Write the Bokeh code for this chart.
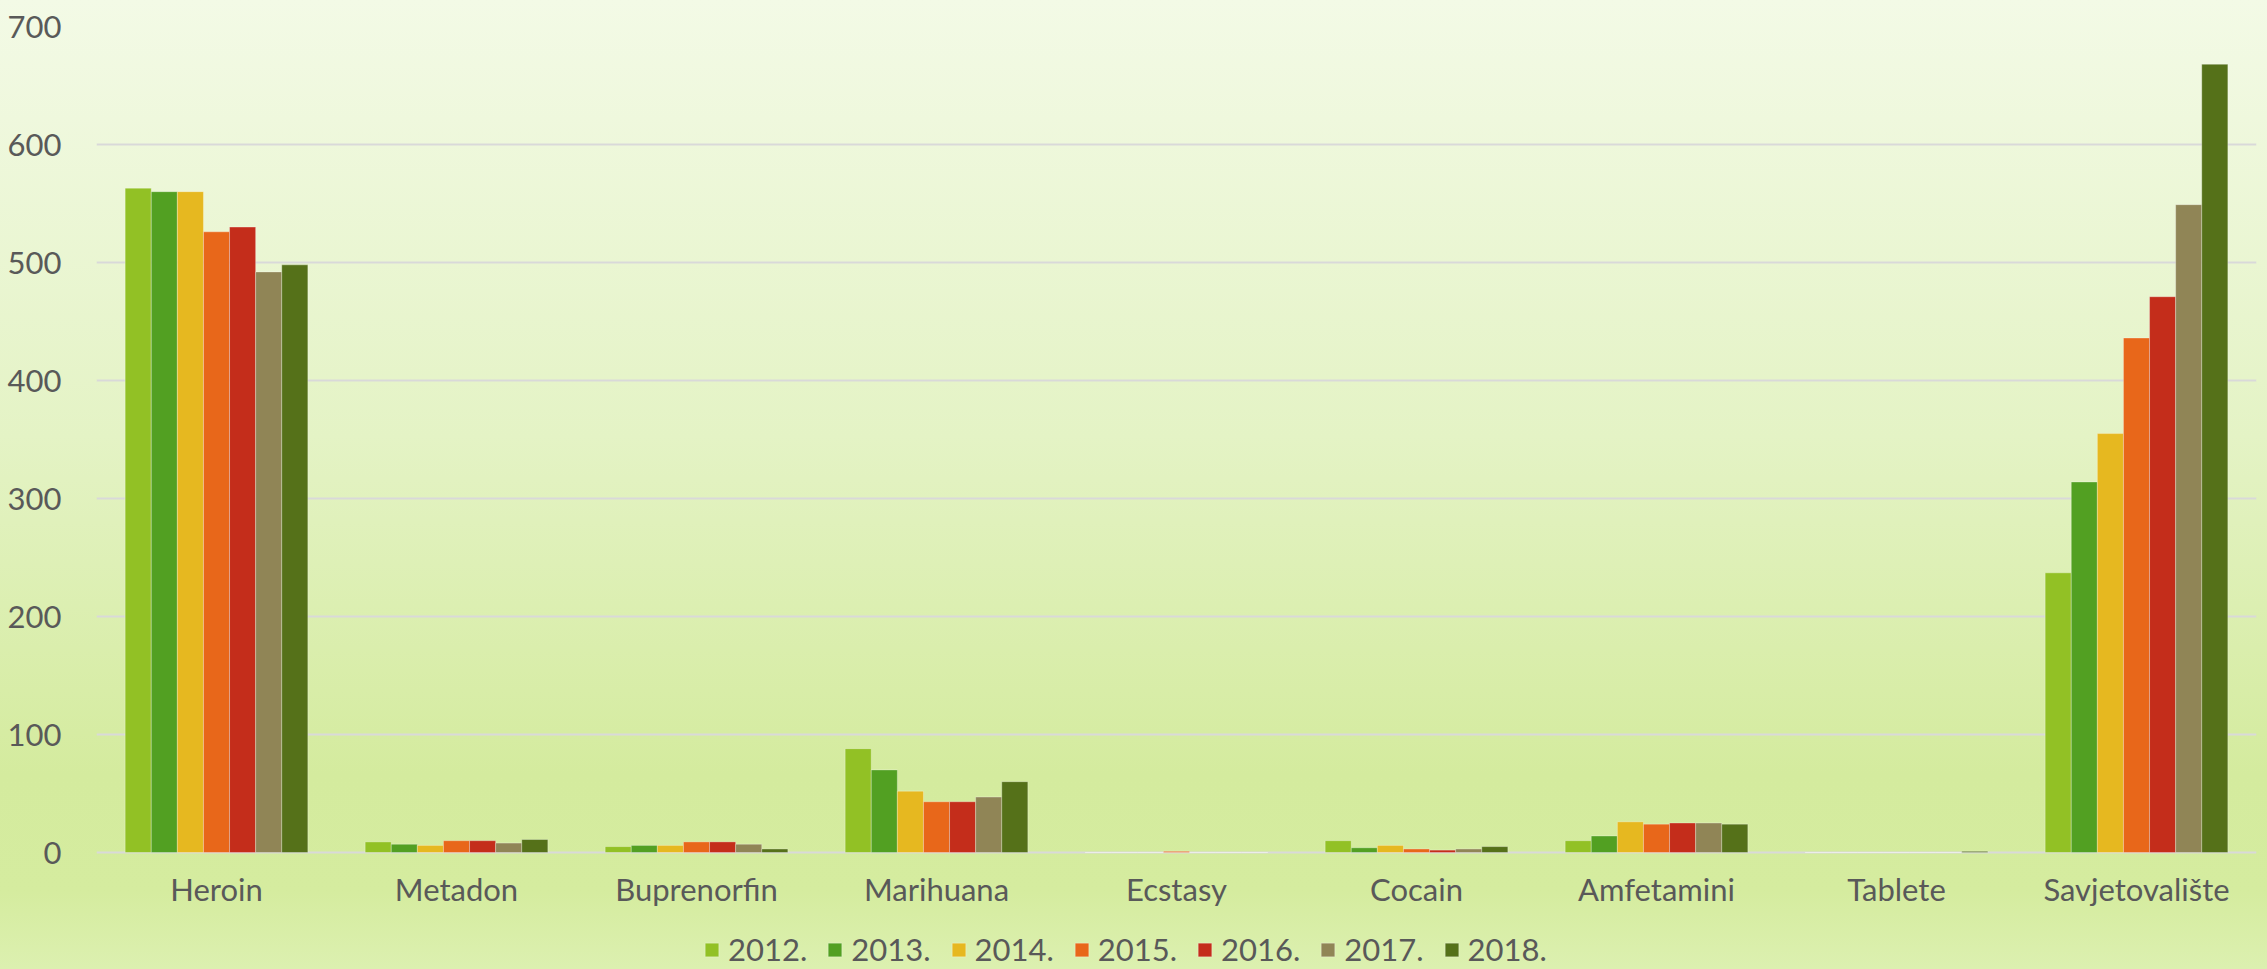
from bokeh.plotting import figure
from bokeh.models import (ColumnDataSource, FactorRange, Range1d, Legend, LegendItem,
                          FixedTicker)
from bokeh.core.properties import value
from bokeh.transform import dodge
from bokeh.embed import file_html
from bokeh.resources import INLINE

categories = ["Heroin", "Metadon", "Buprenorfin", "Marihuana", "Ecstasy",
              "Cocain", "Amfetamini", "Tablete", "Savjetovalište"]
years = ["2012.", "2013.", "2014.", "2015.", "2016.", "2017.", "2018."]

v2012 = [563, 9, 5, 88, 0, 10, 10, 0, 237]
v2013 = [560, 7, 6, 70, 0, 4, 14, 0, 314]
v2014 = [560, 6, 6, 52, 0, 6, 26, 0, 355]
v2015 = [526, 10, 9, 43, 1, 3, 24, 0, 436]
v2016 = [530, 10, 9, 43, 0, 2, 25, 0, 471]
v2017 = [492, 8, 7, 47, 0, 3, 25, 0, 549]
v2018 = [498, 11, 3, 60, 0, 5, 24, 1, 668]
series = [v2012, v2013, v2014, v2015, v2016, v2017, v2018]

y_ticks = [0, 100, 200, 300, 400, 500, 600, 700]

colors = ["#92c125", "#52a022", "#e6b820", "#e8671a", "#c42d1b", "#908556", "#557119"]

FONT = "Lato"
TXT = "#595959"

data = {"cat": categories}
for yr, vals in zip(years, series):
    data["y" + yr] = vals
source = ColumnDataSource(data)

# frame spans the whole lower area so that the legend (drawn inside it) is not clipped;
# value 0 sits 117 px above the frame bottom, 700 at the frame top
W, H = 2267, 969
TOP, LEFT, RIGHT = 26, 96, 11
ZERO_PX = 117
px_per_unit = (H - TOP - ZERO_PX) / 700.0
y_low = -ZERO_PX / px_per_unit

p = figure(x_range=FactorRange(factors=categories), y_range=Range1d(y_low, 700),
           width=W, height=H, output_backend="svg", toolbar_location=None,
           min_border_left=LEFT, min_border_right=RIGHT, min_border_top=TOP,
           min_border_bottom=0)

p.background_fill_color = None
p.border_fill_color = None
p.outline_line_color = None

bw = 0.10875
items = []
for i, yr in enumerate(years):
    r = p.vbar(x=dodge("cat", (i - 3) * bw, range=p.x_range), top="y" + yr,
               width=bw, source=source, fill_color=colors[i],
               line_color="white", line_alpha=0.3, line_width=1)
    items.append(LegendItem(label=yr, renderers=[r]))

# category labels under the zero line
p.text(x="cat", y=0, text="cat", source=source, y_offset=36,
       text_align="center", text_baseline="alphabetic",
       text_font=value(FONT), text_font_size="31px", text_color=TXT)

p.xaxis.visible = False
p.yaxis.ticker = FixedTicker(ticks=y_ticks)
p.ygrid.ticker = FixedTicker(ticks=y_ticks)
p.xgrid.grid_line_color = None
p.ygrid.grid_line_color = "#d9d9d9"
p.ygrid.grid_line_width = 2

ax = p.yaxis
ax.axis_line_color = None
ax.major_tick_line_color = None
ax.minor_tick_line_color = None
ax.major_label_text_font = FONT
ax.major_label_text_font_size = "31px"
ax.major_label_text_color = TXT
ax.major_label_standoff = 29

legend = Legend(items=items, orientation="horizontal", location=(607, 1),
                glyph_width=17, glyph_height=17, label_standoff=8, spacing=19,
                padding=0, margin=0, border_line_color=None,
                background_fill_alpha=0, label_text_font=FONT,
                label_text_font_size="31px", label_text_color=TXT)
p.add_layout(legend)

html = file_html(p, INLINE, title="chart")
style = ("<style>html{height:100%;overflow:hidden;"
         "background:linear-gradient(to bottom,#f3fae6 0%,#e4f3c5 45%,#d4eb9e 80%,"
         "#d5ec9f 92%,#dcf0b0 100%);}"
         "body{overflow:hidden;background:transparent;}</style>")
html = html.replace("</head>", style + "</head>", 1)
open("out.html", "w").write(html)
